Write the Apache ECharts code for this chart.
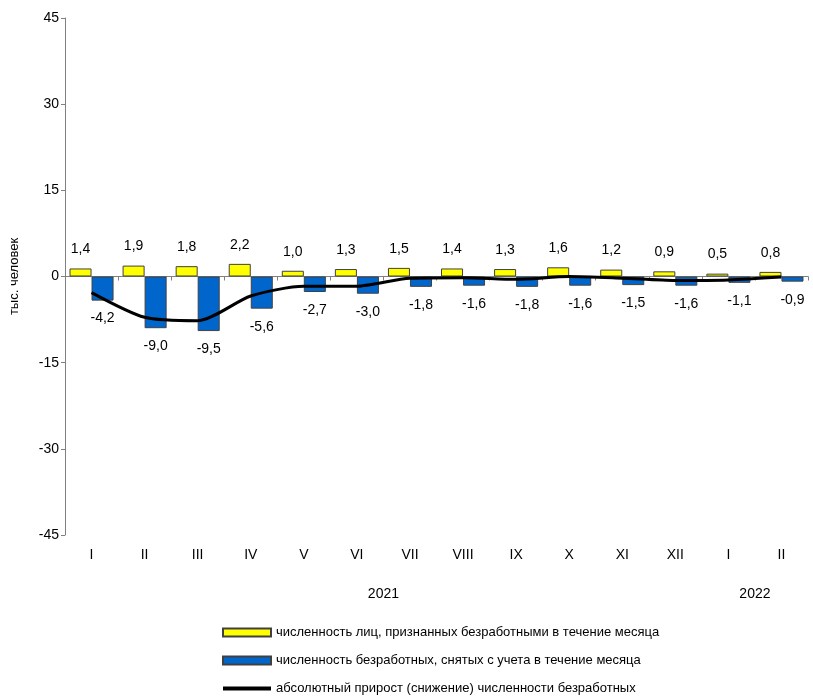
<!DOCTYPE html>
<html>
<head>
<meta charset="utf-8">
<script src="https://cdn.jsdelivr.net/npm/echarts@6/dist/echarts.min.js"></script>
<style>html,body{margin:0;padding:0;background:#fff}#c{width:813px;height:700px}</style>
</head>
<body>
<div id="c"></div>
<script>
var months = ['I','II','III','IV','V','VI','VII','VIII','IX','X','XI','XII','I','II'];
var years = ['2021','2022'];
var yearMonthCounts = [12, 2];
var registered = [1.4,1.9,1.8,2.2,1.0,1.3,1.5,1.4,1.3,1.6,1.2,0.9,0.5,0.8];
var removed = [-4.2,-9.0,-9.5,-5.6,-2.7,-3.0,-1.8,-1.6,-1.8,-1.6,-1.5,-1.6,-1.1,-0.9];
var netChange = [-2.8,-7.1,-7.7,-3.4,-1.7,-1.7,-0.3,-0.2,-0.5,0.0,-0.3,-0.7,-0.6,-0.1];
var yTicks = {min:-45, max:45, interval:15};
var seriesNames = [
  'численность лиц, признанных безработными в течение месяца',
  'численность безработных, снятых с учета в течение месяца',
  'абсолютный прирост (снижение) численности безработных'
];

var FONT = "'Liberation Sans', Arial, sans-serif";
var NARROW = "'Liberation Sans Narrow', 'Liberation Sans', Arial, sans-serif";
function fmt(v){ return v.toFixed(1).replace('.', ','); }

var yearCenters = {};
var acc = 0;
for (var i = 0; i < years.length; i++) {
  yearCenters[acc + yearMonthCounts[i] / 2] = years[i];
  acc += yearMonthCounts[i];
}

var chart = echarts.init(document.getElementById('c'), null, {renderer:'canvas'});
chart.setOption({
  animation: false,
  backgroundColor: '#fff',
  grid: {left: 65, right: 5, top: 18, bottom: 165},
  legend: {
    orient: 'vertical',
    left: 222, top: 626, height: 90, padding: 0,
    itemWidth: 48, itemHeight: 8, itemGap: 15,
    textStyle: {fontFamily: FONT, fontSize: 13, color: '#000'},
    data: [
      {name: seriesNames[0], icon: 'rect'},
      {name: seriesNames[1], icon: 'rect'},
      {name: seriesNames[2], icon: 'path://M0,0h48v4h-48z', itemStyle: {color: '#000', borderWidth: 0}}
    ]
  },
  xAxis: [
    {
      type: 'category', data: months,
      axisLine: {onZero: true, lineStyle: {color: '#808080', width: 1}},
      axisTick: {show: true, length: 4, alignWithLabel: false, lineStyle: {color: '#808080'}},
      axisLabel: {show: false},
      splitLine: {show: false}
    },
    {
      type: 'category', data: months, position: 'bottom',
      axisLine: {show: false}, axisTick: {show: false},
      axisLabel: {fontFamily: NARROW, fontSize: 14, color: '#000', margin: 13}
    },
    {
      type: 'value', min: 0, max: months.length, interval: 1, position: 'bottom',
      offset: 38,
      axisLine: {show: false}, axisTick: {show: false}, splitLine: {show: false},
      axisLabel: {fontFamily: NARROW, fontSize: 14, color: '#000', margin: 14,
        showMinLabel: true, showMaxLabel: true,
        formatter: function(v){ return yearCenters[v] || ''; }}
    }
  ],
  yAxis: {
    type: 'value', min: yTicks.min, max: yTicks.max, interval: yTicks.interval,
    name: 'тыс. человек', nameLocation: 'middle', nameGap: 44, nameRotate: 90,
    nameTextStyle: {fontFamily: FONT, fontSize: 13, color: '#000'},
    axisLine: {show: true, lineStyle: {color: '#808080'}},
    axisTick: {show: true, length: 4, lineStyle: {color: '#808080'}},
    axisLabel: {fontFamily: FONT, fontSize: 14, color: '#000', margin: 6},
    splitLine: {show: false}
  },
  series: [
    {
      name: seriesNames[0], type: 'bar', data: registered,
      barGap: '0%', barCategoryGap: '17%',
      itemStyle: {color: '#FFFF00', borderColor: '#404040', borderWidth: 1},
      label: {show: true, position: 'top', distance: 12, fontFamily: FONT, fontSize: 14, color: '#000',
        formatter: function(p){ return fmt(p.value); }}
    },
    {
      name: seriesNames[1], type: 'bar', data: removed,
      barGap: '0%', barCategoryGap: '17%',
      itemStyle: {color: '#0066CC', borderColor: '#404040', borderWidth: 1},
      label: {show: true, position: 'bottom', distance: 11, fontFamily: FONT, fontSize: 14, color: '#000',
        formatter: function(p){ return fmt(p.value); }}
    },
    {
      name: seriesNames[2], type: 'line', data: netChange,
      smooth: 0.25, symbol: 'none', showSymbol: false, z: 5,
      lineStyle: {color: '#000', width: 3},
      itemStyle: {color: '#000'}
    }
  ]
});
</script>
</body>
</html>
